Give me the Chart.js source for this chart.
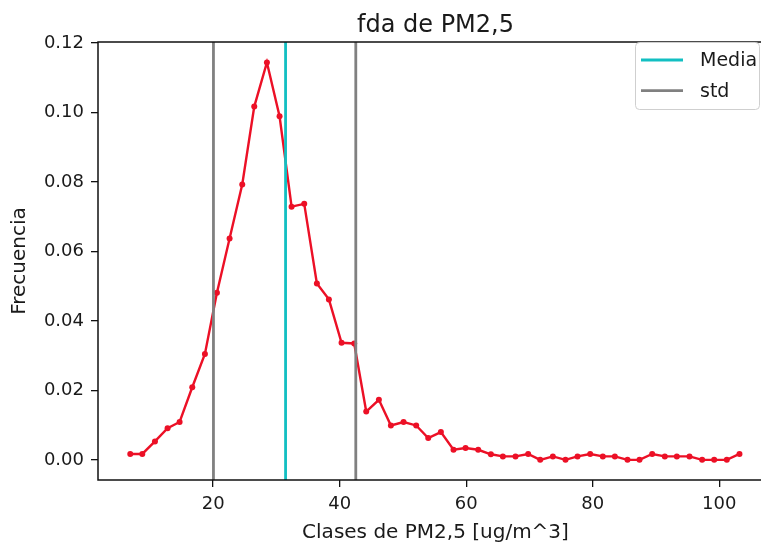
<!DOCTYPE html>
<html>
<head>
<meta charset="utf-8">
<script src="https://cdn.jsdelivr.net/npm/chart.js@4/dist/chart.umd.min.js"></script>
<style>
  html, body { margin: 0; padding: 0; background: #ffffff; overflow: hidden; }
  #wrap { width: 761px; height: 545px; position: relative; overflow: hidden; }
  #c { position: absolute; left: 0; top: 0; }
</style>
</head>
<body>
<div id="wrap"><canvas id="c" width="790" height="545"></canvas></div>
<script>
// ---- data ----
const CLASES = [6.9, 8.8, 10.8, 12.8, 14.7, 16.7, 18.7, 20.6, 22.6, 24.6,
                26.5, 28.5, 30.5, 32.4, 34.4, 36.4, 38.3, 40.3, 42.3, 44.2,
                46.2, 48.1, 50.1, 52.1, 54.0, 56.0, 58.0, 59.9, 61.9, 63.9,
                65.8, 67.8, 69.8, 71.7, 73.7, 75.7, 77.6, 79.6, 81.6, 83.5,
                85.5, 87.4, 89.4, 91.4, 93.3, 95.3, 97.3, 99.2, 101.2, 103.2];
const FRECUENCIA = [0.0017, 0.0017, 0.0053, 0.0091, 0.0109, 0.0209, 0.0305, 0.0481, 0.0637, 0.0793,
                    0.1017, 0.1144, 0.0989, 0.0729, 0.0737, 0.0508, 0.0462, 0.0337, 0.0335, 0.0139,
                    0.0173, 0.0099, 0.0109, 0.0099, 0.0063, 0.0080, 0.0029, 0.0034, 0.0029, 0.0016,
                    0.0010, 0.0010, 0.0017, 0.0000, 0.0010, 0.0000, 0.0010, 0.0017, 0.0010, 0.0010,
                    0.0000, 0.0000, 0.0017, 0.0010, 0.0010, 0.0010, 0.0000, 0.0000, 0.0000, 0.0017];
const MEDIA = 31.45;
const STD_LIMITS = [20.05, 42.55];
const X_TICKS = [20, 40, 60, 80, 100];
const Y_TICKS = [0.00, 0.02, 0.04, 0.06, 0.08, 0.10, 0.12];
const X_RANGE = [1.8, 108.5];
const Y_RANGE = [-0.0058, 0.1203];
const TITLE = 'fda de PM2,5';
const X_LABEL = 'Clases de PM2,5 [ug/m^3]';
const Y_LABEL = 'Frecuencia';

const FONT = '"DejaVu Sans", sans-serif';
const TXT = '#1a1a1a';
const RED = '#ec1026';
const CYAN = '#12bfc2';
const GRAY = '#808080';

const vline = (x, label, color, showInLegend) => ({
  label, showInLegend,
  data: [{x: x, y: Y_RANGE[0]}, {x: x, y: Y_RANGE[1]}],
  borderColor: color, borderWidth: 2.8, pointRadius: 0, order: 1
});

const frame = {
  id: 'frame',
  afterDatasetsDraw(chart) {
    const {ctx, chartArea: a} = chart;
    ctx.save();
    ctx.strokeStyle = '#111';
    ctx.lineWidth = 1.5;
    ctx.strokeRect(a.left, a.top, a.right - a.left, a.bottom - a.top);
    ctx.restore();
  },
  afterDraw(chart) {
    const ctx = chart.ctx;
    const items = chart.data.datasets.filter(d => d.showInLegend);
    ctx.save();
    const bx = 635.5, by = 42.5, bw = 124, bh = 67;
    ctx.beginPath();
    ctx.roundRect(bx, by, bw, bh, 4);
    ctx.fillStyle = 'rgba(255,255,255,0.85)';
    ctx.fill();
    ctx.strokeStyle = '#cfcfcf';
    ctx.lineWidth = 1;
    ctx.stroke();
    ctx.font = '19px ' + FONT;
    ctx.textBaseline = 'middle';
    ctx.fillStyle = TXT;
    items.forEach((d, i) => {
      const y = 60 + i * 30.7;
      ctx.beginPath();
      ctx.strokeStyle = d.borderColor;
      ctx.lineWidth = 2.8;
      ctx.moveTo(641, y); ctx.lineTo(683, y);
      ctx.stroke();
      ctx.fillText(d.label, 700, y + 1);
    });
    ctx.restore();
  }
};

new Chart(document.getElementById('c'), {
  type: 'line',
  data: {
    datasets: [
      {
        label: 'fda',
        showInLegend: false,
        data: CLASES.map((x, i) => ({x: x, y: FRECUENCIA[i]})),
        borderColor: RED, backgroundColor: RED, borderWidth: 2.4,
        pointRadius: 3, pointBorderWidth: 0, pointBackgroundColor: RED,
        tension: 0, order: 2
      },
      vline(MEDIA, 'Media', CYAN, true),
      vline(STD_LIMITS[0], 'std', GRAY, true),
      vline(STD_LIMITS[1], 'std', GRAY, false)
    ]
  },
  options: {
    responsive: false,
    animation: false,
    events: [],
    layout: { padding: { left: 0, right: 17, top: 0, bottom: 0 } },
    plugins: {
      legend: { display: false },
      tooltip: { enabled: false },
      title: {
        display: true, text: TITLE, fullSize: false, color: TXT,
        font: { family: FONT, size: 24, weight: 'normal', lineHeight: 1.2 },
        padding: { top: 11, bottom: 2.2 }
      }
    },
    scales: {
      x: {
        type: 'linear', min: X_RANGE[0], max: X_RANGE[1],
        afterFit: s => { s.height = 65; },
        afterBuildTicks: s => { s.ticks = X_TICKS.map(v => ({value: v})); },
        border: { display: false },
        grid: { drawOnChartArea: false, drawTicks: true, tickLength: 7, color: '#111', lineWidth: 1.3 },
        ticks: { color: TXT, padding: 7, maxRotation: 0, font: { family: FONT, size: 18, lineHeight: 1.2 },
                 callback: v => String(v) },
        title: { display: true, text: X_LABEL, color: TXT,
                 font: { family: FONT, size: 20, lineHeight: 1.2 }, padding: { top: 0, bottom: 0 } }
      },
      y: {
        type: 'linear', min: Y_RANGE[0], max: Y_RANGE[1],
        afterFit: s => { s.width = 98; },
        afterBuildTicks: s => { s.ticks = Y_TICKS.map(v => ({value: v})); },
        border: { display: false },
        grid: { drawOnChartArea: false, drawTicks: true, tickLength: 7, color: '#111', lineWidth: 1.3 },
        ticks: { color: TXT, padding: 7, font: { family: FONT, size: 18, lineHeight: 1.2 },
                 callback: v => Number(v).toFixed(2) },
        title: { display: true, text: Y_LABEL, color: TXT,
                 font: { family: FONT, size: 20, lineHeight: 1.2 }, padding: { top: 8, bottom: 0 } }
      }
    }
  },
  plugins: [frame]
});
</script>
</body>
</html>
